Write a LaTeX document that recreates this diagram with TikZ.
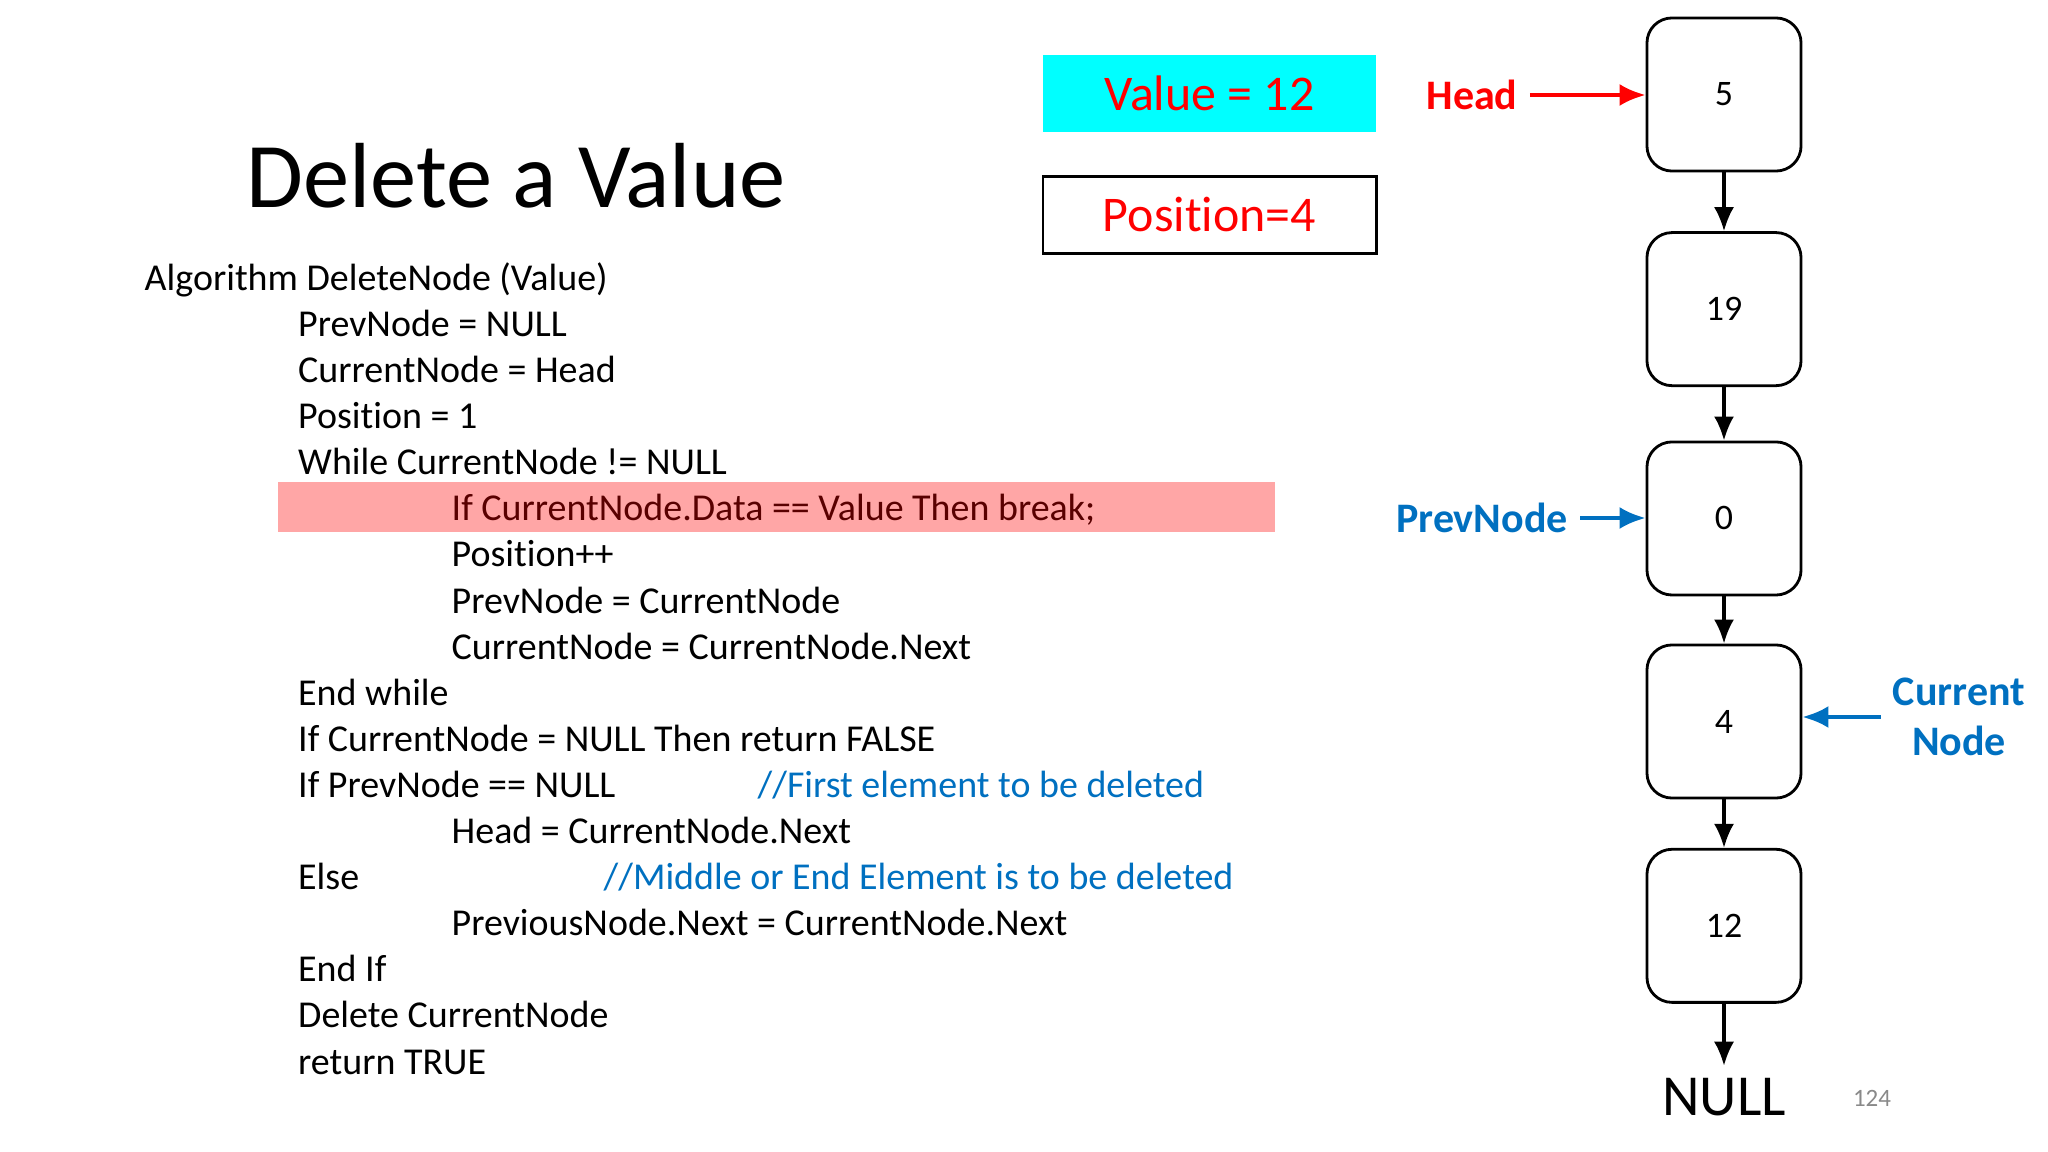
\documentclass[tikz,border=0pt]{standalone}
\usepackage{fontspec}
\setmainfont[Ligatures=NoCommon]{Carlito}
\usepackage{xcolor}
\usetikzlibrary{arrows.meta, positioning}
\definecolor{cyanfill}{RGB}{0,255,255}
\definecolor{linkblue}{RGB}{0,112,192}
\definecolor{pagegrey}{RGB}{137,137,137}

\begin{document}
\begin{tikzpicture}[
    x=0.01cm, y=-0.01cm,
    node distance=0.55cm,
    code/.style={anchor=west, inner sep=0pt, text height=8pt, text depth=2.7pt, font=\fontsize{10.8pt}{13pt}\selectfont},
    comment/.style={code, text=linkblue},
    listbox/.style={draw, rounded corners=0.25cm, line width=0.8pt, minimum width=1.54cm, minimum height=1.53cm, font=\fontsize{10.2pt}{12pt}\selectfont},
    infobox/.style={minimum width=3.33cm, minimum height=0.77cm, text=red, font=\fontsize{14.2pt}{17pt}\selectfont},
    pointer/.style={font=\bfseries\fontsize{11.95pt}{14.3pt}\selectfont},
    arrow/.style={-{Latex[length=2.4mm,width=2mm]}, line width=0.9pt},
    ptr/.style={-{Latex[length=2.6mm,width=2.2mm]}, line width=1.1pt}
]
\useasboundingbox (0,0) rectangle (2048,1152);

% Titel und Algorithmus
\node[font=\fontsize{26.3pt}{31pt}\selectfont] (title) at (516,176) {Delete a Value};

\foreach \i/\lvl/\txt in {
    1/0/Algorithm DeleteNode (Value),
    2/1/PrevNode = NULL,
    3/1/CurrentNode = Head,
    4/1/Position = 1,
    5/1/While CurrentNode != NULL,
    6/2/If CurrentNode.Data == Value Then break;,
    7/2/Position++,
    8/2/PrevNode = CurrentNode,
    9/2/CurrentNode = CurrentNode.Next,
    10/1/End while,
    11/1/If CurrentNode = NULL Then return FALSE,
    12/1/If PrevNode == NULL,
    13/2/Head = CurrentNode.Next,
    14/1/Else,
    15/2/PreviousNode.Next = CurrentNode.Next,
    16/1/End If,
    17/1/Delete CurrentNode,
    18/1/return TRUE}
  \node[code] (l\i) at ({144+153.5*\lvl}, {281+46.1*(\i-1)}) {\txt};

\node[comment] (c1) at (757,788) {//First element to be deleted};
\node[comment] (c2) at (603,880) {//Middle or End Element is to be deleted};

% Markierung der aktuellen Zeile
\fill[red, fill opacity=0.35] (278,482) rectangle (1275,532);

% Wert und Position
\node[infobox, fill=cyanfill] (valbox) at (1209.5,93.5) {Value = 12};
\node[infobox, draw, line width=0.8pt, below=0.42cm of valbox] (posbox) {Position=4};

% Liste
\node[listbox] (n5) at (1724,94.5) {5};
\node[listbox, below=0.587cm of n5] (n19) {19};
\node[listbox, below=0.534cm of n19] (n0) {0};
\node[listbox, below=0.471cm of n0] (n4) {4};
\node[listbox, below=0.484cm of n4] (n12) {12};
\node[font=\fontsize{16.5pt}{20pt}\selectfont] (null) at (1724,1097) {NULL};
\node[text=pagegrey, font=\fontsize{7.1pt}{9pt}\selectfont] (pageno) at (1872,1098) {124};

\foreach \a/\b in {n5/n19, n19/n0, n0/n4, n4/n12, n12/null}
  \draw[arrow] (\a) -- (\b);

% Zeiger
\node[pointer, text=red] (head) at (1472,95) {Head};
\node[pointer, text=linkblue] (prev) at (1482,518) {PrevNode};
\node[pointer, text=linkblue, align=center] (cur) at (1959,717) {Current\\Node};

\draw[ptr, red] (head.east) -- (head.east -| n5.west);
\draw[ptr, linkblue] (prev.east) -- (prev.east -| n0.west);
\draw[ptr, linkblue] (cur.west) -- (cur.west -| n4.east);

\end{tikzpicture}
\end{document}
